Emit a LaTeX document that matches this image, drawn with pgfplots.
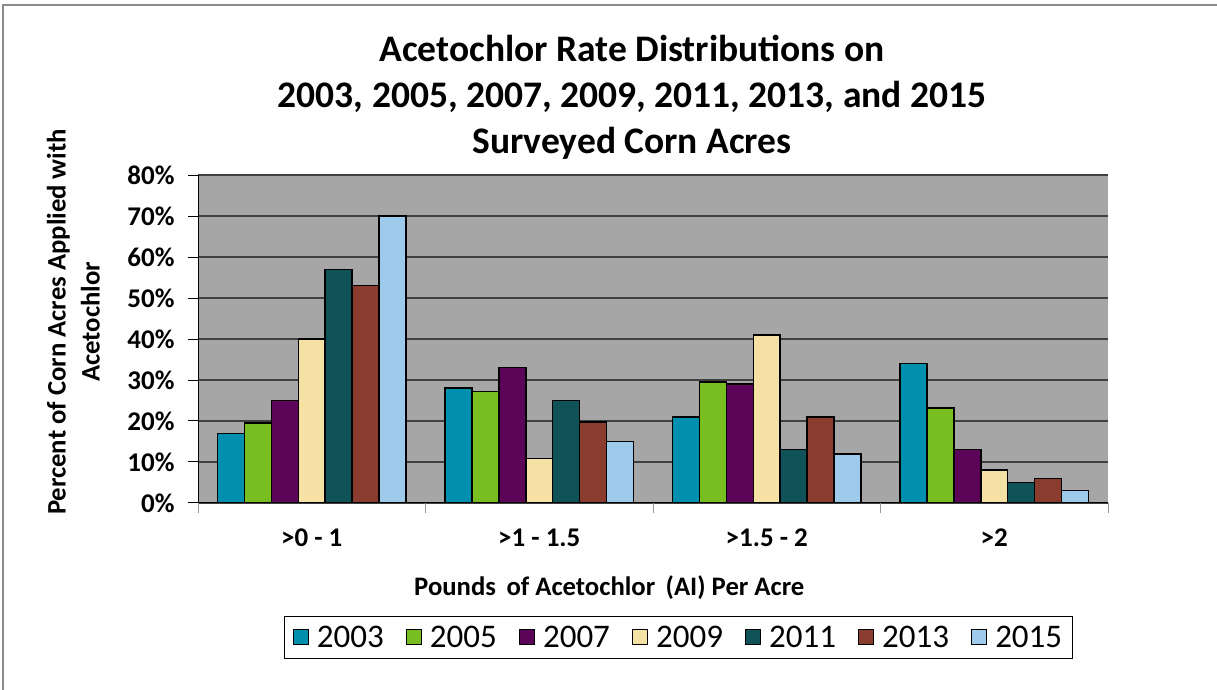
\documentclass[border=0pt]{standalone}
\usepackage{fontspec}
\setmainfont{Carlito}
\usepackage{pgfplots}
\pgfplotsset{compat=1.18}
\definecolor{c03}{HTML}{008FAD}
\definecolor{c05}{HTML}{78BE20}
\definecolor{c07}{HTML}{5C0558}
\definecolor{c09}{HTML}{F5E1A4}
\definecolor{c11}{HTML}{0F5257}
\definecolor{c13}{HTML}{8A3D2E}
\definecolor{c15}{HTML}{9ECBEB}
\definecolor{plotbg}{HTML}{A6A6A6}
\pgfplotsset{
  sq/.style={draw=black, line width=1.5pt,
    legend image code/.code={\draw[##1,draw=black,line width=0.8pt] (0pt,-7pt) rectangle (15pt,8pt);
      \path (21pt,0pt);}},
}
\begin{document}
\begin{tikzpicture}
\path[use as bounding box] (0,0) rectangle (1217pt,690pt);
\draw[color=black!45, line width=2pt] (2.5pt,0pt) -- (2.5pt,684.5pt) -- (1217pt,684.5pt);
\begin{axis}[
  at={(198pt,187pt)}, anchor=south west,
  scale only axis, width=910pt, height=328pt,
  ybar=0pt, bar width=26.9pt,
  xmin=-0.5, xmax=3.5, ymin=0, ymax=80,
  axis background/.style={fill=plotbg},
  axis x line*=bottom, axis y line*=left, axis line style={-, black, line width=1pt},
  xtick={0,1,2,3},
  xticklabels={{>0 - 1},{>1 - 1.5},{>1.5 - 2},{>2}},
  minor xtick={-0.5,0.5,1.5,2.5,3.5},
  major x tick style={draw=none},
  minor x tick style={black!40, line width=1pt},
  tick align=outside, major tick length=10pt, minor tick length=10pt,
  ytick={0,10,...,80},
  yticklabels={0\%,10\%,20\%,30\%,40\%,50\%,60\%,70\%,80\%},
  y tick style={black, line width=1pt},
  ymajorgrids, grid style={draw=black!75, line width=1.3pt},
  ticklabel style={font=\bfseries\fontsize{27}{30}\selectfont},
  yticklabel style={xshift=-10pt},
  xticklabel style={anchor=base, yshift=-34pt},
  title={Acetochlor Rate Distributions on\\2003, 2005, 2007, 2009, 2011, 2013, and 2015\\Surveyed Corn Acres},
  title style={at={(axis description cs:0.477,1.218)}, anchor=center, align=center,
    font=\bfseries\fontsize{37.5}{46}\selectfont},
  xlabel={Pounds\, of Acetochlor\, (AI) Per Acre},
  xlabel style={at={(axis description cs:0.452,-0.2805)}, anchor=base,
    font=\bfseries\fontsize{26.7}{30}\selectfont},
  ylabel={Percent of Corn Acres Applied with\\Acetochlor},
  ylabel style={at={(axis description cs:-0.137,0.552)}, anchor=center, align=center,
    rotate=0, font=\bfseries\fontsize{26.7}{34}\selectfont},
  legend columns=-1,
  legend style={at={(axis description cs:0.528,-0.410)}, anchor=center,
    draw=black, line width=1pt, fill=white,
    font=\fontsize{33}{38}\selectfont,
    /tikz/every even column/.append style={column sep=20pt},
    inner xsep=8pt, inner ysep=8pt},
]
\addplot[sq, fill=c03] coordinates {(0,17) (1,28) (2,21) (3,34)};
\addplot[sq, fill=c05] coordinates {(0,19.5) (1,27.2) (2,29.5) (3,23.2)};
\addplot[sq, fill=c07] coordinates {(0,25) (1,33) (2,29) (3,13)};
\addplot[sq, fill=c09] coordinates {(0,40) (1,10.8) (2,41) (3,8)};
\addplot[sq, fill=c11] coordinates {(0,57) (1,25) (2,13) (3,5)};
\addplot[sq, fill=c13] coordinates {(0,53) (1,19.8) (2,21) (3,6)};
\addplot[sq, fill=c15] coordinates {(0,70) (1,15) (2,12) (3,3)};
\legend{2003,2005,2007,2009,2011,2013,2015}
\end{axis}
\end{tikzpicture}
\end{document}
